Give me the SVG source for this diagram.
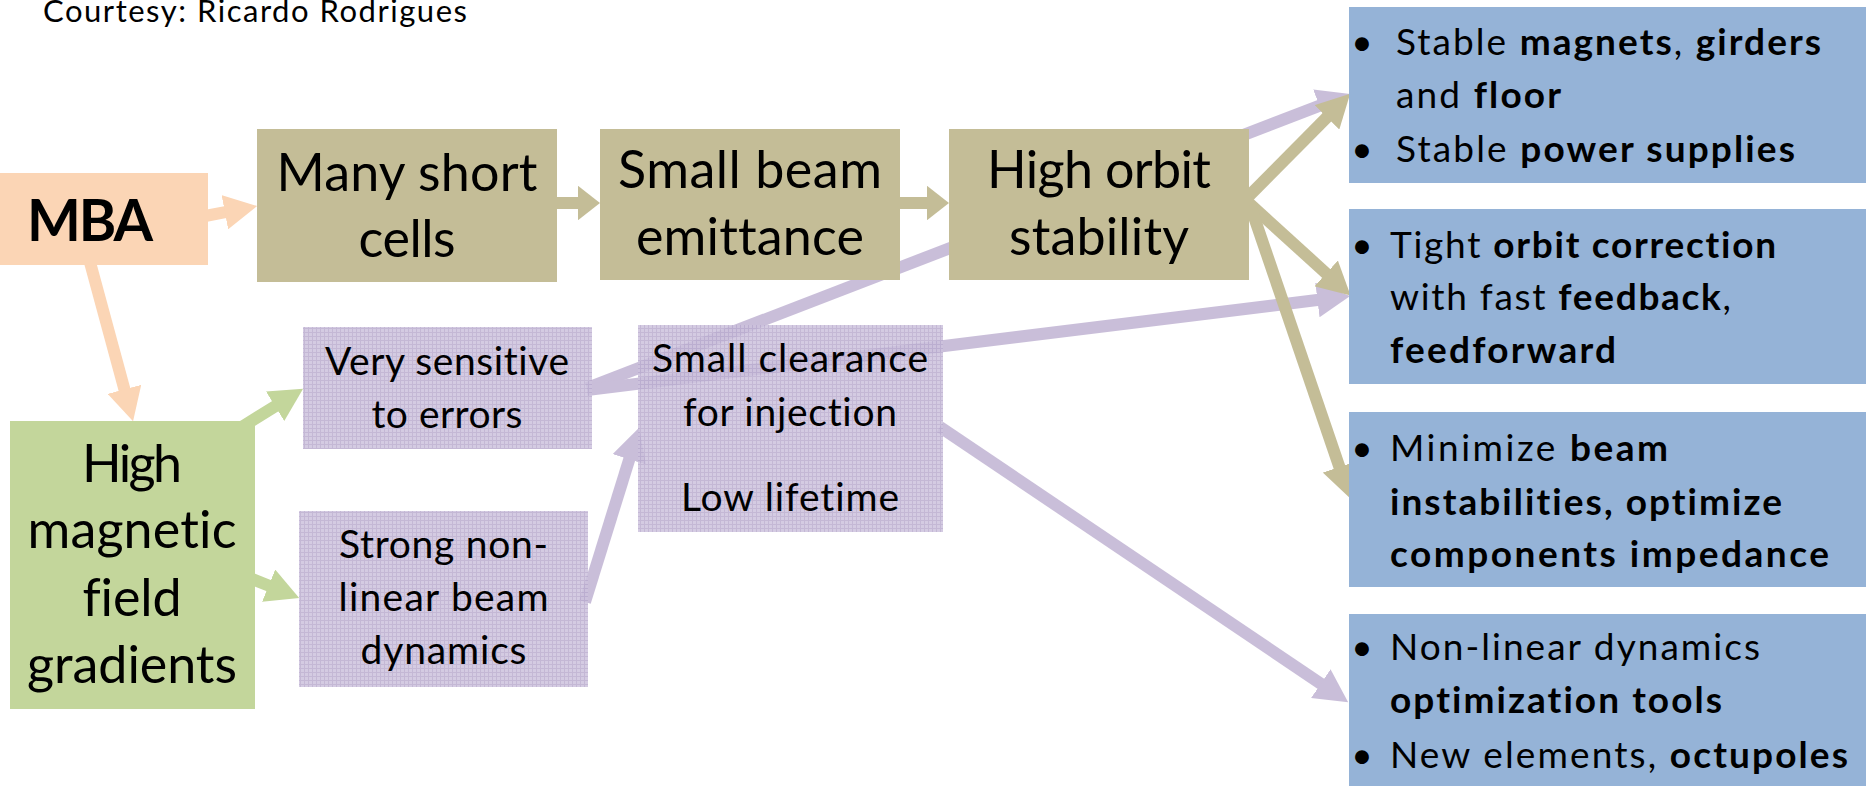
<svg xmlns="http://www.w3.org/2000/svg" width="1866" height="786" viewBox="0 0 1866 786">
  <defs>
    <style>
      text { font-family: Lato, "Open Sans", "Liberation Sans", sans-serif; fill: #000; font-variant-ligatures: none; font-feature-settings: "liga" 0, "clig" 0; }
      .c { text-anchor: middle; }
      .big { font-size: 52px; }
      .mid { font-size: 39px; }
      .side { font-size: 37px; }
      .b { font-weight: 700; }
      .peach { fill: #FBD5B5; }
      .khaki { fill: #C4BD97; }
      .green { fill: #C3D69B; }
      .blue { fill: #95B3D7; }
      .soft { fill: url(#grid); opacity: 0.85; }
      .lk { fill: none; stroke-width: 12; stroke-linecap: butt; }
      .lk-peach { stroke: #FBD5B5; marker-end: url(#head-peach); }
      .lk-khaki { stroke: #C4BD97; marker-end: url(#head-khaki); }
      .lk-khaki-s { stroke: #C4BD97; marker-end: url(#head-khaki-short); }
      .lk-green { stroke: #C3D69B; marker-end: url(#head-green); }
      .lk-purple { stroke: #B8A9CD; marker-end: url(#head-purple); }
    </style>
    <pattern id="grid" width="4" height="4" patternUnits="userSpaceOnUse">
      <rect width="4" height="4" fill="#CCC2DD"/>
      <path d="M0 0.5H4M0.5 0V4" stroke="#B9ABCE" stroke-width="1"/>
    </pattern>
    <marker id="head-peach" markerUnits="strokeWidth" markerWidth="2.75" markerHeight="2.9" refX="0.15" refY="1.45" orient="auto">
      <path d="M0,0 L2.75,1.45 L0,2.9 Z" fill="#FBD5B5"/>
    </marker>
    <marker id="head-khaki" markerUnits="strokeWidth" markerWidth="2.75" markerHeight="2.9" refX="0.15" refY="1.45" orient="auto">
      <path d="M0,0 L2.75,1.45 L0,2.9 Z" fill="#C4BD97"/>
    </marker>
    <marker id="head-khaki-short" markerUnits="strokeWidth" markerWidth="1.85" markerHeight="2.9" refX="0.15" refY="1.45" orient="auto">
      <path d="M0,0 L1.85,1.45 L0,2.9 Z" fill="#C4BD97"/>
    </marker>
    <marker id="head-green" markerUnits="strokeWidth" markerWidth="2.75" markerHeight="2.9" refX="0.15" refY="1.45" orient="auto">
      <path d="M0,0 L2.75,1.45 L0,2.9 Z" fill="#C3D69B"/>
    </marker>
    <marker id="head-purple" markerUnits="strokeWidth" markerWidth="2.75" markerHeight="2.9" refX="0.15" refY="1.45" orient="auto">
      <path d="M0,0 L2.75,1.45 L0,2.9 Z" fill="#B8A9CD"/>
    </marker>
  </defs>

  <rect width="1866" height="786" fill="#FFFFFF"/>

  <text id="credit" x="43" y="22" style="font-size:31px" textLength="424">Courtesy: Ricardo Rodrigues</text>

  <!-- connectors sit under the nodes; the lavender boxes are translucent so links show through -->
  <g id="connectors">
    <g id="links-purple" opacity="0.75">
      <path class="lk lk-purple" d="M587,388 L1321.1,105.1"/>
      <path class="lk lk-purple" d="M587,390 L1319.2,299.8"/>
      <path class="lk lk-purple" d="M585,602 L629.8,457.6"/>
      <path class="lk lk-purple" d="M940,427 L1322.3,684.7"/>
    </g>
    <g id="links-peach">
      <path class="lk lk-peach" d="M200,217 L226.6,211.9"/>
      <path class="lk lk-peach" d="M88,255 L124.9,391.1"/>
    </g>
    <g id="links-green">
      <path class="lk lk-green" d="M240,428 L276.6,405.3"/>
      <path class="lk lk-green" d="M245,576 L270.3,586.3"/>
    </g>
    <g id="links-khaki">
      <path class="lk lk-khaki-s" d="M550,203 L579.6,203"/>
      <path class="lk lk-khaki-s" d="M895,203 L928.6,203"/>
      <path class="lk lk-khaki" d="M1240,205 L1328.2,116"/>
      <path class="lk lk-khaki" d="M1240,195 L1327.5,274.6"/>
      <path class="lk lk-khaki" d="M1250,205 L1340,468.7"/>
    </g>
  </g>

  <g id="node-mba">
    <rect class="peach" x="0" y="173" width="208" height="92"/>
    <text class="b" x="27" y="241" style="font-size:57px" textLength="126">MBA</text>
  </g>

  <g id="node-cells">
    <rect class="khaki" x="257" y="129" width="300" height="153"/>
    <text class="c big" x="407" y="191" textLength="261">Many short</text>
    <text class="c big" x="407" y="257" textLength="97">cells</text>
  </g>

  <g id="node-emittance">
    <rect class="khaki" x="600" y="129" width="300" height="151"/>
    <text class="c big" x="750" y="188" textLength="264">Small beam</text>
    <text class="c big" x="750" y="255" textLength="228">emittance</text>
  </g>

  <g id="node-orbit">
    <rect class="khaki" x="949" y="129" width="300" height="151"/>
    <text class="c big" x="1099" y="188" textLength="224">High orbit</text>
    <text class="c big" x="1099" y="255" textLength="180">stability</text>
  </g>

  <g id="node-gradients">
    <rect class="green" x="10" y="421" width="245" height="288"/>
    <text class="c big" x="132" y="482" textLength="100">High</text>
    <text class="c big" x="132" y="548" textLength="209">magnetic</text>
    <text class="c big" x="132" y="616" textLength="99">field</text>
    <text class="c big" x="132" y="683" textLength="210">gradients</text>
  </g>

  <g id="node-sensitive">
    <rect class="soft" x="303" y="327" width="289" height="122"/>
    <text class="c mid" x="447" y="375" textLength="244">Very sensitive</text>
    <text class="c mid" x="447" y="428" textLength="151">to errors</text>
  </g>

  <g id="node-nonlinear">
    <rect class="soft" x="299" y="511" width="289" height="176"/>
    <text class="c mid" x="443.5" y="558" textLength="209">Strong non-</text>
    <text class="c mid" x="443.5" y="611" textLength="210">linear beam</text>
    <text class="c mid" x="443.5" y="664" textLength="166">dynamics</text>
  </g>

  <g id="node-clearance">
    <rect class="soft" x="638" y="325" width="305" height="207"/>
    <text class="c mid" x="790" y="372" textLength="276">Small clearance</text>
    <text class="c mid" x="790" y="426" textLength="214">for injection</text>
    <text class="c mid" x="790" y="511" textLength="218">Low lifetime</text>
  </g>

  <g id="node-supports">
    <rect class="blue" x="1349" y="7" width="517" height="176"/>
    <text class="c side" x="1362" y="55">•</text>
    <text class="side" x="1396" y="55" textLength="425">Stable <tspan class="b">magnets</tspan>, <tspan class="b">girders</tspan></text>
    <text class="side" x="1396" y="108" textLength="165">and <tspan class="b">floor</tspan></text>
    <text class="c side" x="1362" y="162">•</text>
    <text class="side" x="1396" y="162" textLength="399">Stable <tspan class="b">power supplies</tspan></text>
  </g>

  <g id="node-correction">
    <rect class="blue" x="1349" y="209" width="517" height="175"/>
    <text class="c side" x="1362" y="258">•</text>
    <text class="side" x="1390" y="258" textLength="386">Tight <tspan class="b">orbit correction</tspan></text>
    <text class="side" x="1390" y="310" textLength="341">with fast <tspan class="b">feedback</tspan>,</text>
    <text class="side b" x="1390" y="363" textLength="226">feedforward</text>
  </g>

  <g id="node-impedance">
    <rect class="blue" x="1349" y="412" width="517" height="175"/>
    <text class="c side" x="1362" y="461">•</text>
    <text class="side" x="1390" y="461" textLength="278">Minimize <tspan class="b">beam</tspan></text>
    <text class="side b" x="1390" y="515" textLength="392">instabilities, optimize</text>
    <text class="side b" x="1390" y="567" textLength="439">components impedance</text>
  </g>

  <g id="node-dynamics">
    <rect class="blue" x="1349" y="614" width="517" height="172"/>
    <text class="c side" x="1362" y="660">•</text>
    <text class="side" x="1390" y="660" textLength="370">Non-linear dynamics</text>
    <text class="side b" x="1390" y="713" textLength="332">optimization tools</text>
    <text class="c side" x="1362" y="768">•</text>
    <text class="side" x="1390" y="768" textLength="458">New elements, <tspan class="b">octupoles</tspan></text>
  </g>
</svg>
